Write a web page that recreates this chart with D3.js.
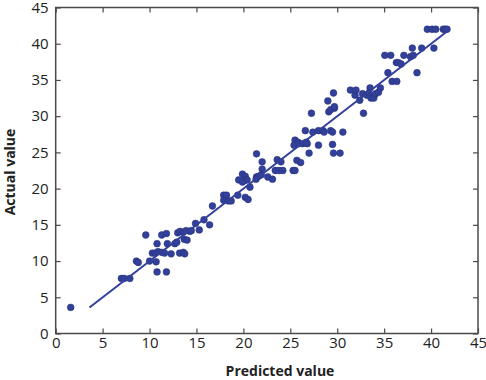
<!DOCTYPE html>
<html>
<head>
<meta charset="utf-8">
<script src="https://cdn.jsdelivr.net/npm/d3@7"></script>
<style>
  html, body { margin: 0; padding: 0; background: #fff; }
  svg { display: block; }
</style>
</head>
<body>
<svg id="chart" width="486" height="380"></svg>
<script>
// Data (predicted, actual)
const predicted = [
  1.6, 7.0, 7.3, 7.9, 8.6, 8.8, 9.6, 10.0, 10.7, 10.8, 11.8, 10.8,
  10.3, 10.6, 10.9, 11.3, 11.3, 11.8, 11.6, 12.3, 11.9, 12.7, 12.9,
  13.0, 13.25, 13.6, 13.9, 14.3, 14.45, 14.9, 15.3, 13.7, 14.0, 13.2, 13.6, 13.75,
  15.8, 16.4, 16.7, 17.9, 18.2, 17.9, 18.4, 18.7, 19.4, 20.2, 20.5, 20.7,
  19.5, 19.9, 20.2, 20.1, 20.4, 19.9, 21.4, 21.6, 21.9, 21.35,
  22.0, 21.4, 22.0, 22.6, 23.1, 23.4, 23.8, 24.2, 23.6, 24.0,
  25.3, 25.5, 25.7, 26.1, 25.5, 25.8, 25.4, 25.9, 26.3, 26.7, 26.8,
  26.6, 27.0, 27.4, 28.0, 28.5, 28.6, 29.3, 29.5, 30.6, 28.0, 29.5, 29.6, 30.3,
  27.25, 29.0, 29.6, 29.1, 29.3, 29.7, 29.7,
  31.4, 31.9, 32.0, 32.4, 32.7, 33.15, 33.5, 33.4, 33.6, 33.9, 34.1, 34.4, 34.6,
  32.8, 35.4, 35.85, 36.35, 35.07, 35.7, 36.3, 36.5, 36.8, 37.1, 37.8, 38.1, 38.5,
  38.0, 39.0, 40.3, 39.6, 40.1, 40.5, 41.3, 41.5, 41.7
];
const actual = [
  3.6, 7.6, 7.6, 7.6, 10.0, 9.8, 13.6, 10.0, 9.9, 8.5, 8.5, 12.4,
  11.1, 11.1, 11.3, 11.2, 13.6, 13.8, 11.1, 11.0, 12.4, 12.4, 12.6,
  13.9, 14.1, 14.0, 14.2, 14.1, 14.2, 15.2, 14.3, 13.0, 12.9, 11.1, 11.2, 11.0,
  15.7, 15.0, 17.6, 19.1, 19.1, 18.4, 18.3, 18.3, 19.1, 18.8, 18.5, 20.2,
  21.2, 22.0, 21.7, 21.1, 21.2, 20.9, 21.6, 21.7, 21.9, 21.3,
  22.7, 24.8, 23.7, 21.6, 21.3, 22.5, 22.5, 22.5, 24.0, 23.7,
  22.5, 22.5, 23.9, 23.6, 26.7, 26.4, 26.0, 26.2, 26.2, 26.4, 26.2,
  28.0, 24.9, 27.8, 28.0, 28.0, 27.8, 28.0, 27.8, 27.8, 26.0, 26.1, 24.9, 24.9,
  30.4, 32.1, 33.2, 30.6, 30.9, 31.1, 31.3,
  33.6, 32.9, 33.6, 32.2, 33.1, 32.9, 33.9, 33.2, 32.5, 32.5, 33.1, 33.3, 33.9,
  30.4, 36.0, 34.8, 34.8, 38.4, 38.4, 37.4, 37.4, 37.2, 38.4, 38.2, 38.4, 36.0,
  39.4, 39.4, 39.4, 42.0, 42.0, 42.0, 42.0, 42.0, 42.0
];
const fitLine = [[3.6, 3.6], [41.9, 41.9]];
const xTicks = [0, 5, 10, 15, 20, 25, 30, 35, 40, 45];
const yTicks = [0, 5, 10, 15, 20, 25, 30, 35, 40, 45];
const xTitle = "Predicted value";
const yTitle = "Actual value";

const svg = d3.select("#chart");
const mLeft = 55.7, mRight = 478, mTop = 7.5, mBottom = 333.5;
const color = "#32409a";
const frame = "#4a4a4a";
const font = "'Open Sans', 'Noto Sans', sans-serif";

const x = d3.scaleLinear().domain([0, 45]).range([mLeft, mRight]);
const y = d3.scaleLinear().domain([0, 45]).range([mBottom, mTop]);

// points
const pts = predicted.map((p, i) => ({ p, a: actual[i] }));
svg.append("g").selectAll("circle").data(pts).join("circle")
  .attr("cx", d => x(d.p)).attr("cy", d => y(d.a)).attr("r", 3.4)
  .attr("fill", color).attr("stroke", "#26307a").attr("stroke-width", 0.5);

// fit line
svg.append("path")
  .attr("d", d3.line().x(d => x(d[0])).y(d => y(d[1]))(fitLine))
  .attr("fill", "none").attr("stroke", color).attr("stroke-width", 2);

// axes with inward ticks
function styleAxis(g) {
  g.select(".domain").remove();
  g.selectAll(".tick line").attr("stroke", frame).attr("stroke-width", 1.2);
  g.selectAll(".tick text").attr("fill", "#222").style("font-family", font).style("font-size", "15px");
}
svg.append("g").attr("transform", `translate(0,${mBottom})`)
  .call(d3.axisBottom(x).tickValues(xTicks).tickFormat(d3.format("d")).tickSizeInner(-5).tickPadding(4))
  .call(styleAxis);
svg.append("g").attr("transform", `translate(0,${mTop})`)
  .call(d3.axisTop(x).tickValues(xTicks).tickFormat("").tickSizeInner(-5))
  .call(styleAxis);
svg.append("g").attr("transform", `translate(${mLeft},0)`)
  .call(d3.axisLeft(y).tickValues(yTicks).tickFormat(d3.format("d")).tickSizeInner(-5).tickPadding(7))
  .call(styleAxis);
svg.append("g").attr("transform", `translate(${mRight},0)`)
  .call(d3.axisRight(y).tickValues(yTicks).tickFormat("").tickSizeInner(-5))
  .call(styleAxis);

// frame
svg.append("rect").attr("x", mLeft).attr("y", mTop).attr("width", mRight - mLeft).attr("height", mBottom - mTop)
  .attr("fill", "none").attr("stroke", frame).attr("stroke-width", 1.5);

// titles
svg.append("text").attr("x", 280).attr("y", 376).attr("text-anchor", "middle")
  .style("font-family", font).style("font-size", "14px").style("font-weight", "bold").attr("fill", "#222")
  .text(xTitle);
svg.append("text").attr("transform", "translate(15,172) rotate(-90)").attr("text-anchor", "middle")
  .style("font-family", font).style("font-size", "14px").style("font-weight", "bold").attr("fill", "#222")
  .text(yTitle);
</script>
</body>
</html>
